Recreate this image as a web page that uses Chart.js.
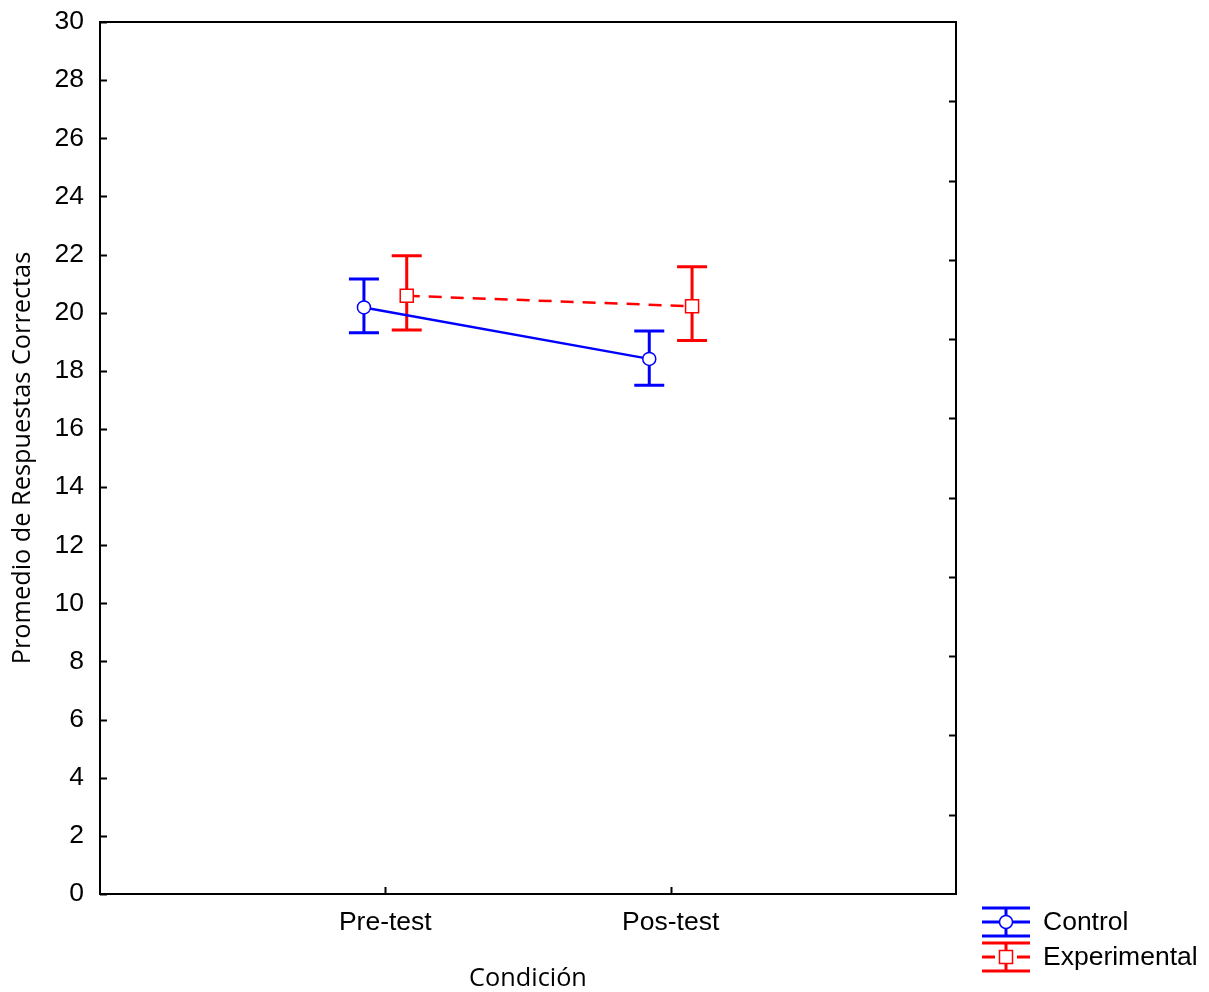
<!DOCTYPE html>
<html>
<head>
<meta charset="utf-8">
<script src="https://cdn.jsdelivr.net/npm/chart.js@4/dist/chart.umd.min.js"></script>
<style>
  html, body { margin: 0; padding: 0; background: #fff; }
</style>
</head>
<body>
<canvas id="chart" width="1209" height="992"></canvas>
<script>
const conditions = ['Pre-test', 'Pos-test'];
const seriesNames = ['Control', 'Experimental'];
const controlMean = [20.18, 18.41];
const controlLow = [19.31, 17.50];
const controlHigh = [21.16, 19.37];
const expMean = [20.58, 20.22];
const expLow = [19.40, 19.04];
const expHigh = [21.96, 21.58];
const seriesOffset = [-0.075, 0.075];
const rightTickCount = 11; // the right frame has its own 11 divisions

const toPoints = (mean, low, high, off) =>
    mean.map((m, i) => ({ x: i + 1 + off, y: m, low: low[i], high: high[i] }));

const tickFont = { family: 'Liberation Sans, Arial', size: 26.5 };
const titleFont = { family: 'Open Sans', size: 25.3 };

// error bars under the markers
const errorBars = {
    id: 'errorBars',
    beforeDatasetsDraw(chart) {
        const { ctx, scales: { x, y } } = chart;
        ctx.save();
        ctx.lineWidth = 3;
        chart.data.datasets.forEach(ds => {
            ctx.strokeStyle = ds.borderColor;
            ds.data.forEach(p => {
                const px = x.getPixelForValue(p.x);
                const lo = y.getPixelForValue(p.low);
                const hi = y.getPixelForValue(p.high);
                ctx.beginPath();
                ctx.moveTo(px, lo); ctx.lineTo(px, hi);
                ctx.moveTo(px - 15, lo); ctx.lineTo(px + 15, lo);
                ctx.moveTo(px - 15, hi); ctx.lineTo(px + 15, hi);
                ctx.stroke();
            });
        });
        ctx.restore();
    }
};

// frame, inward ticks and the legend
const frameAndLegend = {
    id: 'frameAndLegend',
    afterDraw(chart) {
        const { ctx, chartArea: a, scales: { x, y } } = chart;
        ctx.save();
        ctx.strokeStyle = '#000';
        ctx.lineWidth = 2;
        ctx.strokeRect(a.left, a.top, a.right - a.left, a.bottom - a.top);
        ctx.beginPath();
        y.ticks.forEach(t => {
            const py = Math.round(y.getPixelForValue(t.value)) + 0.5;
            ctx.moveTo(a.left, py); ctx.lineTo(a.left + 7, py);
        });
        x.ticks.forEach(t => {
            const px = Math.round(x.getPixelForValue(t.value)) + 0.5;
            ctx.moveTo(px, a.bottom); ctx.lineTo(px, a.bottom - 7);
        });
        for (let i = 1; i < rightTickCount; i++) {
            const py = Math.round(a.bottom - i * (a.bottom - a.top) / rightTickCount) + 0.5;
            ctx.moveTo(a.right, py); ctx.lineTo(a.right - 7, py);
        }
        ctx.stroke();

        // legend
        const sx = a.right + 50, half = 24, rowH = 35;
        chart.data.datasets.forEach((ds, i) => {
            const cy = a.bottom + 28 + i * rowH;
            ctx.strokeStyle = ds.borderColor;
            ctx.lineWidth = 3;
            ctx.beginPath();
            ctx.moveTo(sx - half, cy - 14); ctx.lineTo(sx + half, cy - 14);
            ctx.moveTo(sx - half, cy + 14); ctx.lineTo(sx + half, cy + 14);
            ctx.moveTo(sx, cy - 14); ctx.lineTo(sx, cy + 14);
            if (ds.borderDash && ds.borderDash.length) {
                ctx.moveTo(sx - half, cy); ctx.lineTo(sx - 11, cy);
                ctx.moveTo(sx + 11, cy); ctx.lineTo(sx + half, cy);
            } else {
                ctx.moveTo(sx - half, cy); ctx.lineTo(sx + half, cy);
            }
            ctx.stroke();
            ctx.fillStyle = '#fff';
            ctx.lineWidth = 1.5;
            ctx.beginPath();
            if (ds.pointStyle === 'rect') {
                ctx.rect(sx - 6.5, cy - 6.5, 13, 13);
            } else {
                ctx.arc(sx, cy, 6.5, 0, Math.PI * 2);
            }
            ctx.fill();
            ctx.stroke();
            ctx.fillStyle = '#000';
            ctx.font = `${tickFont.size}px ${tickFont.family}`;
            ctx.textBaseline = 'middle';
            ctx.textAlign = 'left';
            ctx.fillText(ds.label, sx + 37, cy + 1);
        });
        ctx.restore();
    }
};

new Chart(document.getElementById('chart'), {
    type: 'scatter',
    data: {
        datasets: [
            {
                label: seriesNames[0],
                data: toPoints(controlMean, controlLow, controlHigh, seriesOffset[0]),
                showLine: true,
                borderColor: '#0000ff',
                borderWidth: 2.5,
                pointStyle: 'circle',
                pointRadius: 6.5,
                pointBackgroundColor: '#ffffff',
                pointBorderColor: '#0000ff',
                pointBorderWidth: 1.5
            },
            {
                label: seriesNames[1],
                data: toPoints(expMean, expLow, expHigh, seriesOffset[1]),
                showLine: true,
                borderColor: '#ff0000',
                borderWidth: 2.5,
                borderDash: [13, 9],
                pointStyle: 'rect',
                pointRadius: 9.2,
                pointBackgroundColor: '#ffffff',
                pointBorderColor: '#ff0000',
                pointBorderWidth: 1.5
            }
        ]
    },
    options: {
        responsive: false,
        animation: false,
        layout: { padding: { top: 22, right: 253, bottom: 0, left: 0 } },
        plugins: { legend: { display: false }, tooltip: { enabled: false } },
        scales: {
            x: {
                type: 'linear',
                min: 0,
                max: 3,
                afterBuildTicks: s => { s.ticks = conditions.map((c, i) => ({ value: i + 1 })); },
                afterFit: s => { s.height = 98; },
                grid: { display: false, drawTicks: false },
                border: { display: false },
                ticks: {
                    autoSkip: false,
                    maxRotation: 0,
                    padding: 13,
                    color: '#000',
                    font: tickFont,
                    callback: v => conditions[v - 1]
                },
                title: { display: true, text: 'Condición', color: '#000', font: titleFont, padding: { top: 0, bottom: -2 } }
            },
            y: {
                min: 0,
                max: 30,
                afterFit: s => { s.width = 100; s.paddingTop = 0; },
                grid: { display: false, drawTicks: false },
                border: { display: false },
                ticks: { stepSize: 2, padding: 16, color: '#000', font: tickFont },
                title: { display: true, text: 'Promedio de Respuestas Correctas', color: '#000', font: titleFont, padding: { top: 8, bottom: 0 } }
            }
        }
    },
    plugins: [errorBars, frameAndLegend]
});
</script>
</body>
</html>
